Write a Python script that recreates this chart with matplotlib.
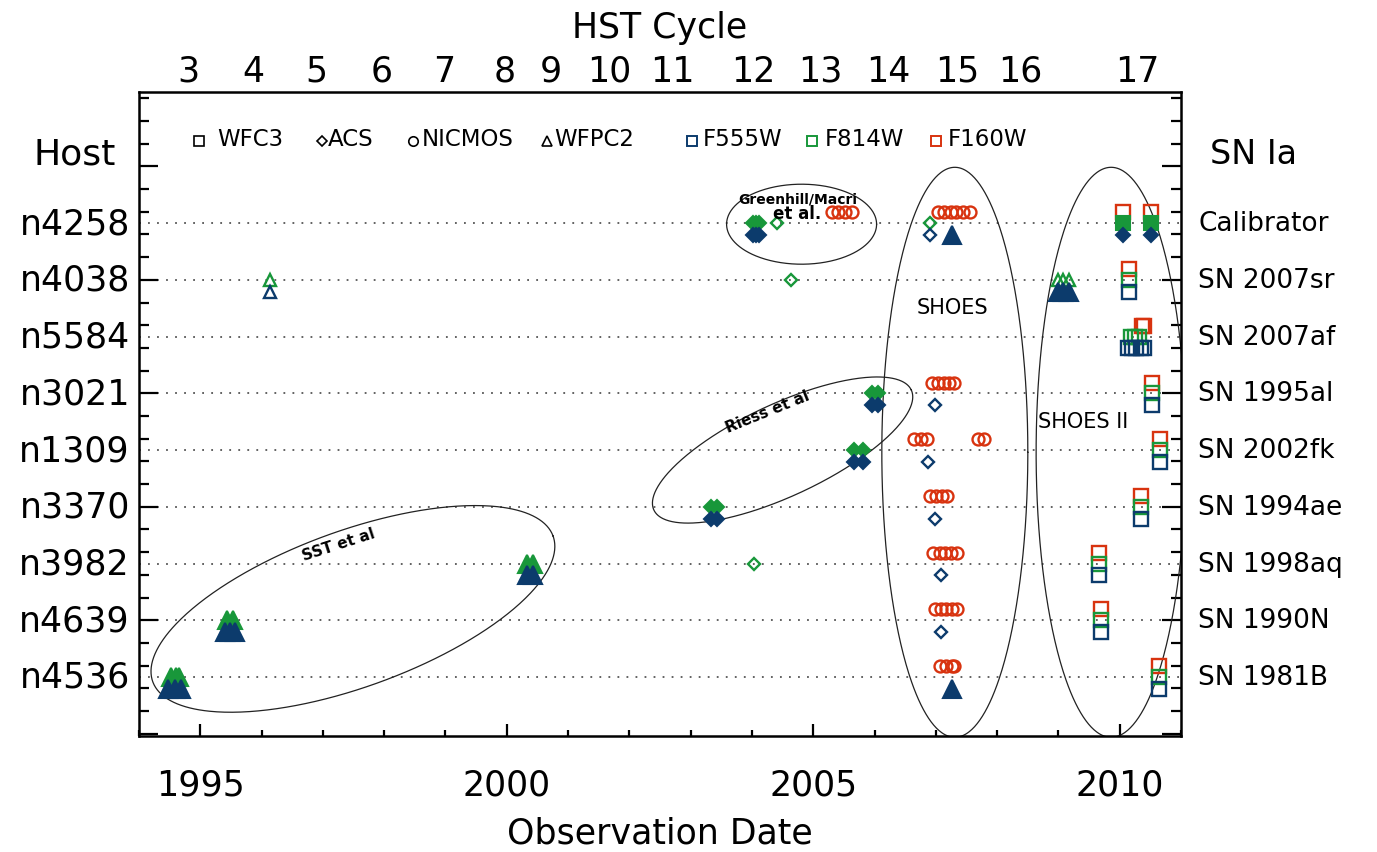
import numpy as np
import matplotlib
matplotlib.use("Agg")
import matplotlib.pyplot as plt
import matplotlib.transforms as mtrans

plt.rcParams['font.family'] = ['DejaVu Sans']

# ---------------- data ----------------
hosts = ["n4258", "n4038", "n5584", "n3021", "n1309", "n3370", "n3982", "n4639", "n4536"]
sn_names = ["Calibrator", "SN 2007sr", "SN 2007af", "SN 1995al", "SN 2002fk",
            "SN 1994ae", "SN 1998aq", "SN 1990N", "SN 1981B"]
host_rows = [9, 8, 7, 6, 5, 4, 3, 2, 1]

year_ticks = [1995, 2000, 2005, 2010]
cycle_labels = ["3", "4", "5", "6", "7", "8", "9", "10", "11", "12", "13", "14", "15", "16", "17"]
cycle_years = [1994.81, 1995.86, 1996.89, 1997.96, 1998.98, 1999.97, 2000.72, 2001.67,
               2002.70, 2004.02, 2005.11, 2006.22, 2007.35, 2008.38, 2010.29]

# observation groups: host, instrument, filter, filled, epochs (decimal year)
grp_host = [
    "n4258", "n4258", "n4258", "n4258", "n4258", "n4258", "n4258", "n4258", "n4258", "n4258", "n4258",
    "n4038", "n4038", "n4038", "n4038", "n4038", "n4038", "n4038", "n4038",
    "n5584", "n5584", "n5584",
    "n3021", "n3021", "n3021", "n3021", "n3021", "n3021", "n3021",
    "n1309", "n1309", "n1309", "n1309", "n1309", "n1309", "n1309",
    "n3370", "n3370", "n3370", "n3370", "n3370", "n3370", "n3370",
    "n3982", "n3982", "n3982", "n3982", "n3982", "n3982", "n3982", "n3982",
    "n4639", "n4639", "n4639", "n4639", "n4639", "n4639", "n4639",
    "n4536", "n4536", "n4536", "n4536", "n4536", "n4536", "n4536",
]
grp_inst = [
    "ACS", "ACS", "ACS", "NICMOS", "NICMOS", "ACS", "ACS", "WFPC2", "WFC3", "WFC3", "ACS",
    "WFPC2", "WFPC2", "ACS", "WFPC2", "WFPC2", "WFC3", "WFC3", "WFC3",
    "WFC3", "WFC3", "WFC3",
    "ACS", "ACS", "NICMOS", "ACS", "WFC3", "WFC3", "WFC3",
    "ACS", "ACS", "NICMOS", "ACS", "WFC3", "WFC3", "WFC3",
    "ACS", "ACS", "NICMOS", "ACS", "WFC3", "WFC3", "WFC3",
    "WFPC2", "WFPC2", "ACS", "NICMOS", "ACS", "WFC3", "WFC3", "WFC3",
    "WFPC2", "WFPC2", "NICMOS", "ACS", "WFC3", "WFC3", "WFC3",
    "WFPC2", "WFPC2", "NICMOS", "WFPC2", "WFC3", "WFC3", "WFC3",
]
grp_filter = [
    "F814W", "F555W", "F814W", "F160W", "F160W", "F814W", "F555W", "F555W", "F160W", "F814W", "F555W",
    "F814W", "F555W", "F814W", "F814W", "F555W", "F160W", "F814W", "F555W",
    "F160W", "F814W", "F555W",
    "F814W", "F555W", "F160W", "F555W", "F160W", "F814W", "F555W",
    "F814W", "F555W", "F160W", "F555W", "F160W", "F814W", "F555W",
    "F814W", "F555W", "F160W", "F555W", "F160W", "F814W", "F555W",
    "F814W", "F555W", "F814W", "F160W", "F555W", "F160W", "F814W", "F555W",
    "F814W", "F555W", "F160W", "F555W", "F160W", "F814W", "F555W",
    "F814W", "F555W", "F160W", "F555W", "F160W", "F814W", "F555W",
]
grp_filled = [
    True, True, False, False, False, False, False, True, False, True, True,
    False, False, False, False, True, False, False, False,
    False, False, False,
    True, True, False, False, False, False, False,
    True, True, False, False, False, False, False,
    True, True, False, False, False, False, False,
    True, True, False, False, False, False, False, False,
    True, True, False, False, False, False, False,
    True, True, False, True, False, False, False,
]
grp_years = [
    [2004.02, 2004.07, 2004.12], [2004.02, 2004.07, 2004.12], [2004.41],
    [2005.31, 2005.41, 2005.52, 2005.64],
    [2007.04, 2007.14, 2007.24, 2007.33, 2007.45, 2007.55],
    [2006.91], [2006.91], [2007.26], [2010.05, 2010.51], [2010.05, 2010.51], [2010.05, 2010.51],
    [1996.14], [1996.14], [2004.64], [2009.00, 2009.08, 2009.17], [2009.00, 2009.08, 2009.17],
    [2010.15], [2010.15], [2010.15],
    [2010.36, 2010.40], [2010.18, 2010.25, 2010.31], [2010.13, 2010.20, 2010.27, 2010.34, 2010.40],
    [2005.96, 2006.06], [2005.96, 2006.06], [2006.94, 2007.04, 2007.13, 2007.22, 2007.29],
    [2006.98], [2010.52], [2010.52], [2010.52],
    [2005.66, 2005.81], [2005.66, 2005.81], [2006.65, 2006.75, 2006.85, 2007.68, 2007.79],
    [2006.88], [2010.66], [2010.66], [2010.66],
    [2003.34, 2003.43], [2003.34, 2003.43], [2006.91, 2007.00, 2007.10, 2007.18],
    [2006.99], [2010.34], [2010.34], [2010.34],
    [2000.33, 2000.43], [2000.33, 2000.43], [2004.04], [2006.96, 2007.06, 2007.15, 2007.25, 2007.34],
    [2007.09], [2009.67], [2009.67], [2009.67],
    [1995.43, 1995.53], [1995.40, 1995.48, 1995.56], [2006.98, 2007.08, 2007.17, 2007.26, 2007.34],
    [2007.09], [2009.69], [2009.69], [2009.69],
    [1994.52, 1994.60, 1994.66], [1994.48, 1994.58, 1994.68], [2007.07, 2007.17, 2007.26, 2007.30],
    [2007.27], [2010.64], [2010.64], [2010.64],
]

legend_inst = ["WFC3", "ACS", "NICMOS", "WFPC2"]
legend_filters = ["F555W", "F814W", "F160W"]

# ---------------- styles ----------------
inst_marker = {"WFC3": "s", "ACS": "D", "NICMOS": "o", "WFPC2": "^"}
inst_size = {"WFC3": 9.5, "ACS": 6.6, "NICMOS": 8.6, "WFPC2": 9.0}
filled_size = {"WFC3": 9.5, "ACS": 6.8, "NICMOS": 8.6, "WFPC2": 12.5}
filter_color = {"F555W": "#0c3b6c", "F814W": "#18973a", "F160W": "#d8330f"}
filter_offset = {"F555W": -0.21, "F814W": 0.0, "F160W": 0.19}

W, H = 1377, 853
fig = plt.figure(figsize=(W / 100, H / 100), dpi=100)
ax_l, ax_r, ax_t, ax_b = 139, 1181, 93, 737
ax = fig.add_axes([ax_l / W, 1 - ax_b / H, (ax_r - ax_l) / W, (ax_b - ax_t) / H])
xlim = (1994.0, 2011.0)
ylim = (-0.04, 11.31)
ax.set_xlim(*xlim)
ax.set_ylim(*ylim)
px_per_year = (ax_r - ax_l) / (xlim[1] - xlim[0])
px_per_row = (ax_b - ax_t) / (ylim[1] - ylim[0])

row_of = dict(zip(hosts, host_rows))

# dotted row lines
for r in host_rows:
    ax.axhline(r, color="#555555", lw=1.3, ls=(0, (1, 4)), zorder=1)

# observations
for h, inst, flt, fill, yrs in zip(grp_host, grp_inst, grp_filter, grp_filled, grp_years):
    c = filter_color[flt]
    yv = [row_of[h] + filter_offset[flt]] * len(yrs)
    if fill:
        ax.plot(yrs, yv, ls="none", marker=inst_marker[inst], ms=filled_size[inst],
                mfc=c, mec=c, mew=1.5, zorder=3)
    else:
        ax.plot(yrs, yv, ls="none", marker=inst_marker[inst], ms=inst_size[inst],
                mfc="none", mec=c, mew=1.7, zorder=3)

# ellipses (annotation outlines)
def ellipse(cx, cy, a_px, b_px, ang):
    t = np.linspace(0, 2 * np.pi, 500)
    th = np.deg2rad(ang)
    xp = a_px * np.cos(t) * np.cos(th) - b_px * np.sin(t) * np.sin(th)
    yp = a_px * np.cos(t) * np.sin(th) + b_px * np.sin(t) * np.cos(th)
    ax.plot(cx + xp / px_per_year, cy + yp / px_per_row, color="#222222", lw=0.9, zorder=2)

ellipse(1997.49, 2.20, 213, 78, 20)
ellipse(2004.50, 5.00, 142, 46, 25)
ellipse(2004.81, 8.98, 75, 40, 0)
ellipse(2007.31, 4.96, 73, 285, 0)
ellipse(2009.86, 4.96, 75, 285, 0)

ax.text(1997.25, 3.34, "SST et al", rotation=18, fontsize=11, fontweight="bold",
        ha="center", va="center")
ax.text(2004.25, 5.69, "Riess et al", rotation=22, fontsize=11, fontweight="bold",
        ha="center", va="center")
ax.text(2004.74, 9.44, "Greenhill/Macri", fontsize=10, fontweight="bold", ha="center", va="center")
ax.text(2004.74, 9.18, "et al.", fontsize=12, fontweight="bold", ha="center", va="center")
ax.text(2007.27, 7.52, "SHOES", fontsize=15, ha="center", va="center")
ax.text(2009.41, 5.51, "SHOES II", fontsize=15, ha="center", va="center")

# axes styling
for s in ax.spines.values():
    s.set_linewidth(1.8)
ax.set_xticks(year_ticks)
ax.set_xticklabels([str(y) for y in year_ticks], fontsize=25)
ax.set_xticks(np.arange(1994, 2012, 1), minor=True)
ax.set_yticks(np.arange(0, 11.1, 2))
ax.set_yticks(np.arange(0, 11.3, 0.4), minor=True)
ax.set_yticklabels([])
ax.tick_params(axis="x", which="major", direction="in", length=9, width=1.6, top=True,
               pad=23)
ax.tick_params(axis="x", which="minor", direction="in", length=4.5, width=1.6, top=True)
ax.tick_params(axis="y", which="major", direction="in", length=14, width=1.6, right=True)
ax.tick_params(axis="y", which="minor", direction="in", length=7, width=1.6, right=True)
ax.set_xlabel("Observation Date", fontsize=25, labelpad=10)

ax2 = ax.twiny()
ax2.set_xlim(*xlim)
ax2.set_xticks(cycle_years)
ax2.set_xticklabels(cycle_labels, fontsize=25)
ax2.tick_params(axis="x", length=0, pad=3)
for s in ax2.spines.values():
    s.set_visible(False)
ax2.set_xlabel("HST Cycle", fontsize=25, labelpad=12)

# row labels
bl = mtrans.blended_transform_factory(ax.transAxes, ax.transData)
for h, sn, r in zip(hosts, sn_names, host_rows):
    ax.text(-9 / (ax_r - ax_l), r, h, transform=bl, ha="right", va="center", fontsize=25)
    ax.text(1 + 17 / (ax_r - ax_l), r, sn, transform=bl, ha="left", va="center", fontsize=19)
fig.text(75 / W, 1 - 155 / H, "Host", ha="center", va="center", fontsize=26)
fig.text(1253 / W, 1 - 155 / H, "SN Ia", ha="center", va="center", fontsize=24)

# legend (manual)
def fx(x):
    return (x - ax_l) / (ax_r - ax_l)

def fy(y):
    return (ax_b - y) / (ax_b - ax_t)

leg_inst_mx = [199, 322, 413, 547]
leg_inst_tx = [217, 328, 422, 554]
leg_size = {"WFC3": 6.5, "ACS": 4.8, "NICMOS": 6.8, "WFPC2": 7}
for inst, mx, tx in zip(legend_inst, leg_inst_mx, leg_inst_tx):
    ax.plot([fx(mx)], [fy(142)], transform=ax.transAxes, marker=inst_marker[inst],
            ms=leg_size[inst], mfc="none", mec="black", mew=1.2, clip_on=False)
    ax.text(fx(tx), fy(140), inst, transform=ax.transAxes, ha="left", va="center", fontsize=16.5)
leg_f_mx = [692, 812, 936]
leg_f_tx = [703, 825, 948]
for flt, mx, tx in zip(legend_filters, leg_f_mx, leg_f_tx):
    ax.plot([fx(mx)], [fy(142)], transform=ax.transAxes, marker="s",
            ms=7, mfc="none", mec=filter_color[flt], mew=1.4, clip_on=False)
    ax.text(fx(tx), fy(140), flt, transform=ax.transAxes, ha="left", va="center", fontsize=16.5)

fig.savefig("out.png", dpi=100)
